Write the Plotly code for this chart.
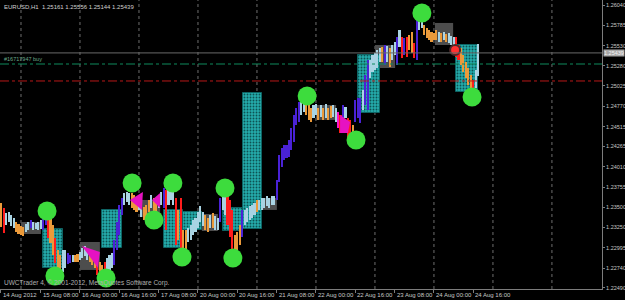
import plotly.graph_objects as go

# ---------------- data ----------------
title_text = "EURUSD,H1  1.25161 1.25556 1.25144 1.25439"
order_text = "#16717947 buy"
copyright_text = "UWCTrader 4, \u00a9 2001-2012, MetaQuotes Software Corp."

# bar index (hours, 0 = 15 Aug 00:00)
bar_start = -8
bar_high = [
    1.23556, 1.23494, 1.23431, 1.23443, 1.23406, 1.23368, 1.23318, 1.23293, 1.23268, 1.23255,
    1.23293, 1.23318, 1.23343, 1.23318, 1.23305, 1.23318, 1.23343, 1.23443, 1.23494, 1.23431,
    1.23381, 1.23280, 1.23117, 1.22967, 1.22904, 1.22967, 1.22967, 1.22929, 1.22904, 1.22904,
    1.22904, 1.22917, 1.22942, 1.22992, 1.23017, 1.22967, 1.22942, 1.22917, 1.22891, 1.22866,
    1.22816, 1.22779, 1.22816, 1.22866, 1.22904, 1.22929, 1.23092, 1.23318, 1.23531, 1.23619,
    1.23682, 1.23694, 1.23682, 1.23682, 1.23657, 1.23632, 1.23619, 1.23531, 1.23506, 1.23531,
    1.23594, 1.23657, 1.23619, 1.23594, 1.23657, 1.23694, 1.23745, 1.23719, 1.23820, 1.23845,
    1.23782, 1.23619, 1.23469, 1.23619, 1.23218, 1.23218, 1.23243, 1.23280, 1.23343, 1.23368,
    1.23443, 1.23519, 1.23443, 1.23406, 1.23368, 1.23406, 1.23431, 1.23393, 1.23368, 1.23619,
    1.23694, 1.23657, 1.23682, 1.23594, 1.23469, 1.23155, 1.23193, 1.23280, 1.23469, 1.23469,
    1.23494, 1.23519, 1.23531, 1.23556, 1.23594, 1.23594, 1.23619, 1.23619, 1.23644, 1.23619,
    1.23644, 1.23644, 1.23845, 1.24159, 1.24247, 1.24284, 1.24284, 1.24347, 1.24497, 1.24660,
    1.24748, 1.24823, 1.24886, 1.24874, 1.24849, 1.24811, 1.24748, 1.24786, 1.24798, 1.24748,
    1.24786, 1.24748, 1.24798, 1.24748, 1.24773, 1.24786, 1.24748, 1.24698, 1.24660, 1.24786,
    1.24761, 1.24623, 1.24598, 1.24535, 1.24849, 1.24874, 1.24874, 1.24974, 1.25162, 1.25350,
    1.25350, 1.25413, 1.25438, 1.25476, 1.25501, 1.25513, 1.25538, 1.25526, 1.25501, 1.25538,
    1.25576, 1.25639, 1.25727, 1.25639, 1.25626, 1.25639, 1.25664, 1.25702, 1.25564, 1.25852,
    1.25890, 1.25915, 1.25789, 1.25752, 1.25727, 1.25702, 1.25689, 1.25727, 1.25702, 1.25689,
    1.25702, 1.25676, 1.25689, 1.25651, 1.25639, 1.25639, 1.25538, 1.25501, 1.25413, 1.25325,
    1.25250, 1.25162, 1.25099, 1.25225, 1.25556,
]
bar_low = [
    1.23255, 1.23180, 1.23280, 1.23318, 1.23268, 1.23243, 1.23193, 1.23167, 1.23155, 1.23142,
    1.23193, 1.23218, 1.23243, 1.23218, 1.23230, 1.23218, 1.23230, 1.23218, 1.23280, 1.23117,
    1.23055, 1.22904, 1.22804, 1.22590, 1.22641, 1.22691, 1.22741, 1.22791, 1.22804, 1.22816,
    1.22816, 1.22816, 1.22841, 1.22866, 1.22891, 1.22841, 1.22816, 1.22779, 1.22741, 1.22653,
    1.22590, 1.22553, 1.22565, 1.22615, 1.22691, 1.22741, 1.22779, 1.22967, 1.23155, 1.23406,
    1.23531, 1.23569, 1.23531, 1.23494, 1.23469, 1.23443, 1.23469, 1.23381, 1.23343, 1.23368,
    1.23443, 1.23494, 1.23368, 1.23318, 1.23494, 1.23531, 1.23494, 1.23218, 1.23531, 1.23594,
    1.23531, 1.23029, 1.23092, 1.22816, 1.22866, 1.22967, 1.23067, 1.23092, 1.23155, 1.23193,
    1.23243, 1.23318, 1.23268, 1.23218, 1.23193, 1.23243, 1.23243, 1.23218, 1.23218, 1.23318,
    1.23469, 1.23406, 1.23280, 1.23130, 1.22967, 1.22904, 1.22967, 1.23029, 1.23130, 1.23280,
    1.23318, 1.23343, 1.23368, 1.23406, 1.23443, 1.23469, 1.23469, 1.23494, 1.23519, 1.23494,
    1.23531, 1.23531, 1.23594, 1.23820, 1.24008, 1.24096, 1.24121, 1.24133, 1.24221, 1.24322,
    1.24535, 1.24572, 1.24660, 1.24698, 1.24660, 1.24598, 1.24572, 1.24623, 1.24660, 1.24598,
    1.24635, 1.24598, 1.24623, 1.24598, 1.24623, 1.24635, 1.24572, 1.24497, 1.24434, 1.24560,
    1.24623, 1.24372, 1.24322, 1.24347, 1.24572, 1.24623, 1.24560, 1.24723, 1.24786, 1.24723,
    1.25124, 1.25200, 1.25225, 1.25250, 1.25325, 1.25325, 1.25288, 1.25325, 1.25262, 1.25350,
    1.25413, 1.25288, 1.25513, 1.25375, 1.25413, 1.25388, 1.25476, 1.25438, 1.25375, 1.25350,
    1.25727, 1.25752, 1.25664, 1.25626, 1.25601, 1.25576, 1.25601, 1.25601, 1.25576, 1.25576,
    1.25601, 1.25576, 1.25564, 1.25538, 1.25538, 1.25388, 1.25350, 1.25288, 1.25200, 1.25124,
    1.25037, 1.24949, 1.24874, 1.24999, 1.25144,
]
bar_kind = ("ORBBBBOOOO" "BBPBBBBPPR" "OOROOBBPPB" "OOBBBBOOOR" "OORBBBPPPP"
            "BBBOOOBBOO" "OBOOBBPRBB" "BROROOBBBB" "BBBOOBOBBP" "BBRRROOOPB"
            "BBBBOBBBBB" "BBPPPPPPPP" "PPBBOOOBBO" "BOBOOBBMRP" "BRROPPPBPP"
            "BBBBBOPBOB" "BPBRPROORP" "BBOOOOOOBO" "BOBBBRROOO" "OORBB")

# zones (x from, x to in bar index; price top, price bottom)
zone_x0 = [8.95, 33.0, 58.2, 65.9, 82.2, 90.3, 137.1, 177.0]
zone_x1 = [17.1, 41.1, 65.9, 73.6, 90.3, 98.0, 146.1, 185.9]
zone_top = [1.23230, 1.23469, 1.23469, 1.23443, 1.23494, 1.24937, 1.25413, 1.25538]
zone_bot = [1.22741, 1.22992, 1.22992, 1.23218, 1.23205, 1.23230, 1.24686, 1.24950]

grey_x0 = [0.0, 24.0, 48.4, 73.6, 98.0, 120.0, 144.0, 168.4]
grey_x1 = [8.1, 32.1, 56.6, 80.1, 104.1, 128.2, 152.2, 175.8]
grey_top = [1.23318, 1.23067, 1.23594, 1.23418, 1.23619, 1.24786, 1.25538, 1.25815]
grey_bot = [1.23167, 1.22716, 1.23381, 1.23205, 1.23469, 1.24598, 1.25250, 1.25538]

tri_k = [[24.8, 32.1, 31.3], [44.3, 49.6, 49.2], [53.3, 56.6, 56.6], [129.8, 133.9, 133.0, 129.8]]
tri_p = [[1.23017, 1.22942, 1.22741], [1.23594, 1.23694, 1.23469],
         [1.23594, 1.23682, 1.23494], [1.24661, 1.24573, 1.24435, 1.24435]]

dot_k = [10.6, 13.8, 34.6, 45.2, 54.1, 61.8, 65.5, 83.0, 86.2, 116.4, 136.3, 163.1, 183.5]
dot_p = [1.23456, 1.22641, 1.22615, 1.23807, 1.23343, 1.23807, 1.22879, 1.23745, 1.22866,
         1.24900, 1.24347, 1.25940, 1.24887]

order_k = [176.6]
order_p = [1.25476]

bid_price = 1.25439
open_price = 1.25300
stop_price = 1.25087

day_k = [0, 24, 48, 72, 96, 120, 144, 168, 192, 216]
label_k = [-8.14, 8, 24, 40, 56, 72, 88, 104, 120, 136, 152, 168, 184]
label_text = ["14 Aug 2012", "15 Aug 08:00", "16 Aug 00:00", "16 Aug 16:00", "17 Aug 08:00",
              "20 Aug 00:00", "20 Aug 16:00", "21 Aug 08:00", "22 Aug 00:00", "22 Aug 16:00",
              "23 Aug 08:00", "24 Aug 00:00", "24 Aug 16:00"]

price_ticks = [1.22490, 1.22740, 1.22995, 1.23250, 1.23500, 1.23755, 1.24010, 1.24265,
               1.24515, 1.24770, 1.25025, 1.25280, 1.25530, 1.25785, 1.26040]
price_ticktext = ["%.5f" % v for v in price_ticks]

# ---------------- styles ----------------
kind_color = {"O": "#eb9a3a", "R": "#ff1c1c", "B": "#a9d3e3", "P": "#4a22d6", "M": "#ff10c8"}
FONT = "Liberation Sans, Arial, sans-serif"
x_range = [-8.54, 236.37]
y_range = [1.22477, 1.26103]

fig = go.Figure()

# teal zones
fig.add_trace(go.Bar(
    x=[(a + b) / 2 for a, b in zip(zone_x0, zone_x1)],
    width=[b - a for a, b in zip(zone_x0, zone_x1)],
    base=zone_bot,
    y=[t - b for t, b in zip(zone_top, zone_bot)],
    marker=dict(color="#22a8a8", line=dict(color="#0e6464", width=1),
                pattern=dict(shape=".", fillmode="replace", bgcolor="#24abab",
                             fgcolor="#0d5252", size=3, solidity=0.3)),
    hoverinfo="skip",
))

# magenta triangles
for tk, tp in zip(tri_k, tri_p):
    fig.add_trace(go.Scatter(x=tk + [tk[0]], y=tp + [tp[0]], fill="toself", mode="lines",
                             fillcolor="#e612c2", line=dict(width=0, color="#e612c2"),
                             hoverinfo="skip"))

# price bars
xs = list(range(bar_start, bar_start + len(bar_high)))
fig.add_trace(go.Bar(
    x=xs, base=bar_low, y=[h - l for h, l in zip(bar_high, bar_low)], width=0.85,
    marker=dict(color=[kind_color[c] for c in bar_kind], line=dict(width=0)),
    hoverinfo="skip",
))

# green dots
fig.add_trace(go.Scatter(x=dot_k, y=dot_p, mode="markers",
                         marker=dict(size=19, color="#3ddc3d", line=dict(width=0)),
                         hoverinfo="skip"))
# order marker
fig.add_trace(go.Scatter(x=order_k, y=order_p, mode="markers",
                         marker=dict(size=10, color="#ff3030", line=dict(width=2, color="#4a2a2a")),
                         hoverinfo="skip"))

shapes = []
for gx0, gx1, gt, gb in zip(grey_x0, grey_x1, grey_top, grey_bot):
    shapes.append(dict(type="rect", xref="x", yref="y", x0=gx0, x1=gx1, y0=gb, y1=gt,
                       fillcolor="#4d4d4d", line=dict(width=0), layer="below"))
for dk in day_k:
    shapes.append(dict(type="line", xref="x", yref="paper", x0=dk, x1=dk, y0=0, y1=1,
                       line=dict(color="#6e6e6e", width=1, dash="3px,3px"), layer="below"))
shapes.append(dict(type="line", xref="paper", yref="y", x0=0, x1=1, y0=bid_price, y1=bid_price,
                   line=dict(color="#6a6a6a", width=1)))
shapes.append(dict(type="line", xref="paper", yref="y", x0=0, x1=1, y0=open_price, y1=open_price,
                   line=dict(color="#0f8a5c", width=1, dash="dashdot")))
shapes.append(dict(type="line", xref="paper", yref="y", x0=0, x1=1, y0=stop_price, y1=stop_price,
                   line=dict(color="#b81818", width=1, dash="dashdot")))

annotations = []
for lk, lt in zip(label_k, label_text):
    annotations.append(dict(x=lk, xref="x", y=0, yref="paper", yanchor="top", xanchor="left",
                            yshift=-1, text=lt, showarrow=False,
                            font=dict(size=6, color="#c8c8c8", family=FONT)))
annotations.append(dict(x=0.004, xref="paper", y=1, yref="paper", xanchor="left", yanchor="top",
                        yshift=-2, text=title_text, showarrow=False,
                        font=dict(size=6, color="#d0d0d0", family=FONT)))
annotations.append(dict(x=0.004, xref="paper", y=open_price, yref="y", xanchor="left",
                        yanchor="bottom", yshift=0, text=order_text, showarrow=False,
                        font=dict(size=5.5, color="#6aa88a", family=FONT)))
annotations.append(dict(x=0.003, xref="paper", y=0, yref="paper", xanchor="left",
                        yanchor="bottom", yshift=0, text=copyright_text, showarrow=False,
                        font=dict(size=6.5, color="#b0b0b0", family=FONT)))
annotations.append(dict(x=1, xref="paper", y=bid_price, yref="y", xanchor="left",
                        yanchor="middle", xshift=1, text="%.5f" % bid_price, showarrow=False,
                        bgcolor="#a8a8a8", borderpad=0,
                        font=dict(size=5.5, color="#f4f4f4", family=FONT)))

fig.update_layout(
    width=625, height=300, margin=dict(l=0, r=23, t=0, b=11),
    paper_bgcolor="#000000", plot_bgcolor="#000000",
    showlegend=False, barmode="overlay", bargap=0,
    shapes=shapes, annotations=annotations,
    xaxis=dict(range=x_range, showgrid=False, zeroline=False, showline=True, mirror=True,
               linecolor="#7c7c7c", linewidth=1, ticks="outside", ticklen=3,
               tickcolor="#7c7c7c", tickvals=label_k, showticklabels=False, automargin=False),
    yaxis=dict(range=y_range, side="right", showgrid=False, zeroline=False, showline=True,
               linecolor="#7c7c7c", linewidth=1, ticks="outside", ticklen=2,
               tickcolor="#7c7c7c", tickvals=price_ticks, ticktext=price_ticktext,
               tickfont=dict(size=5.5, color="#c8c8c8", family=FONT), automargin=False),
)

fig.write_html("out.html")
